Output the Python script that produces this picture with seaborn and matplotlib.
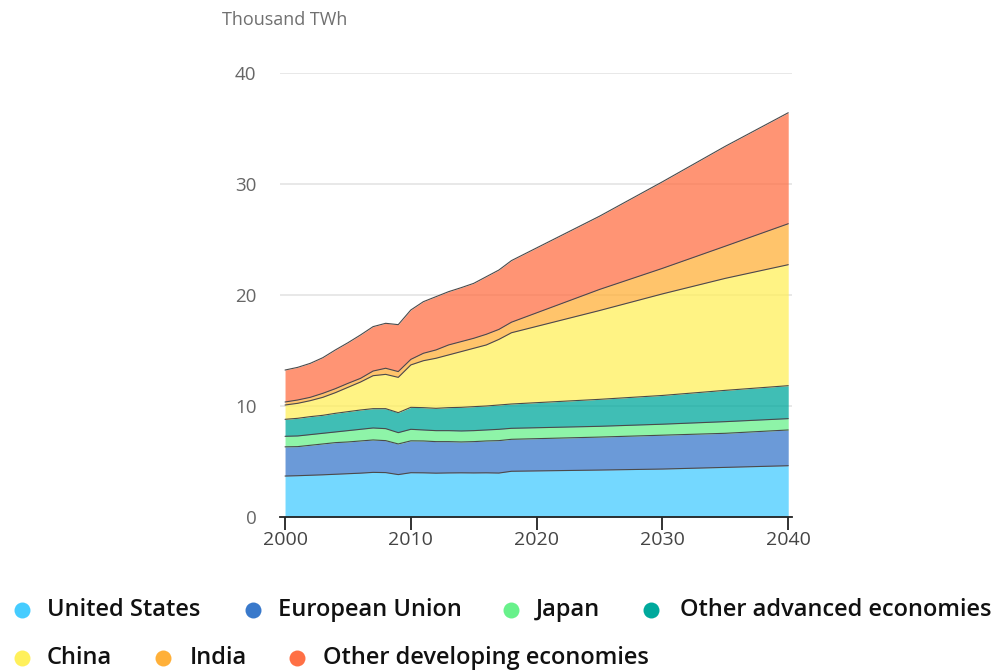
import numpy as np
import pandas as pd
import matplotlib
matplotlib.use("Agg")
import matplotlib.pyplot as plt
from matplotlib.lines import Line2D
import seaborn as sns

# Electricity demand by region, thousand TWh
years = [2000, 2001, 2002, 2003, 2004, 2005, 2006, 2007, 2008, 2009,
         2010, 2011, 2012, 2013, 2014, 2015, 2016, 2017, 2018,
         2025, 2030, 2035, 2040]

united_states = [3.69, 3.72, 3.76, 3.80, 3.85, 3.90, 3.95, 4.02, 4.00, 3.82,
                 3.99, 3.98, 3.95, 3.97, 3.98, 3.97, 3.98, 3.96, 4.12,
                 4.23, 4.32, 4.47, 4.62]
european_union = [2.63, 2.62, 2.70, 2.78, 2.85, 2.86, 2.90, 2.92, 2.88, 2.76,
                  2.87, 2.87, 2.84, 2.82, 2.78, 2.82, 2.87, 2.92, 2.88,
                  2.97, 3.05, 3.07, 3.22]
japan = [0.95, 0.96, 0.96, 0.96, 0.96, 1.02, 1.05, 1.08, 1.08, 1.02,
         1.04, 0.99, 0.99, 0.99, 0.99, 0.99, 0.99, 1.02, 0.99,
         0.97, 0.99, 1.05, 1.02]
other_advanced = [1.53, 1.59, 1.62, 1.62, 1.68, 1.71, 1.74, 1.74, 1.80, 1.80,
                  1.98, 2.01, 2.01, 2.07, 2.13, 2.16, 2.16, 2.19, 2.19,
                  2.43, 2.59, 2.82, 2.97]
china = [1.29, 1.35, 1.44, 1.62, 1.86, 2.19, 2.52, 2.97, 3.09, 3.18,
         3.82, 4.23, 4.51, 4.75, 5.02, 5.26, 5.50, 5.91, 6.42,
         8.00, 9.15, 10.09, 10.90]
india = [0.27, 0.30, 0.30, 0.36, 0.36, 0.36, 0.33, 0.42, 0.55, 0.52,
         0.50, 0.67, 0.75, 0.90, 0.90, 0.90, 0.96, 0.90, 0.95,
         1.90, 2.30, 2.90, 3.69]
other_developing = [2.88, 2.94, 3.06, 3.21, 3.49, 3.66, 3.91, 4.00, 4.05, 4.23,
                    4.45, 4.65, 4.80, 4.80, 4.86, 4.95, 5.19, 5.35, 5.55,
                    6.60, 7.80, 9.00, 10.00]

regions = ["United States", "European Union", "Japan", "Other advanced economies",
           "China", "India", "Other developing economies"]
colors = ["#45ccff", "#3979cb", "#68f18b", "#00a99c",
          "#fff05b", "#ffb039", "#ff7045"]

x_ticks = [2000, 2010, 2020, 2030, 2040]
y_ticks = [0, 10, 20, 30, 40]
unit_label = "Thousand TWh"

df = pd.DataFrame({
    "year": years,
    regions[0]: united_states,
    regions[1]: european_union,
    regions[2]: japan,
    regions[3]: other_advanced,
    regions[4]: china,
    regions[5]: india,
    regions[6]: other_developing,
})

sns.set_theme(style="white")
plt.rcParams["font.family"] = ["Open Sans", "DejaVu Sans"]

fig = plt.figure(figsize=(10, 6.71), dpi=100)
ax = fig.add_axes([0.28, 1 - 517 / 671, 0.512, (517 - 73) / 671])

values = df[regions].to_numpy().T
cum = np.cumsum(values, axis=0)
lower = np.zeros(len(years))
for i, name in enumerate(regions):
    ax.fill_between(df["year"], lower, cum[i], color=colors[i], alpha=0.75,
                    linewidth=0, zorder=2)
    lower = cum[i]

# Boundary lines between stacked layers
long = pd.DataFrame({
    "year": np.tile(df["year"].to_numpy(), len(regions)),
    "top": cum.ravel(),
    "layer": np.repeat(regions, len(years)),
})
sns.lineplot(data=long, x="year", y="top", units="layer", estimator=None,
             color="#4a4a4a", linewidth=0.8, ax=ax, zorder=3, legend=False)

ax.set_xlim(1999.6, 2040.3)
ax.set_ylim(0, 40)
ax.set_xticks(x_ticks)
ax.set_yticks(y_ticks)
ax.set_xlabel("")
ax.set_ylabel("")
ax.grid(axis="y", color="#e4e4e4", linewidth=1.2, zorder=0)
ax.grid(axis="x", visible=False)
for s in ["top", "right", "left"]:
    ax.spines[s].set_visible(False)
ax.spines["bottom"].set_color("#222222")
ax.spines["bottom"].set_linewidth(1.3)
ax.spines["bottom"].set_zorder(4)
ax.tick_params(axis="x", direction="out", length=9, width=1.3, color="#222222",
               labelsize=14, labelcolor="#444444", pad=1, bottom=True)
ax.tick_params(axis="y", length=0, labelsize=13.5, labelcolor="#666666", pad=17)

fig.text(0.222, 1 - 20 / 671, unit_label, fontsize=13, color="#707070",
         ha="left", va="center")

# Legend in two rows
legend_rows = [
    [(22, 47, 0), (253, 278, 1), (511, 536, 2), (651, 680, 3)],
    [(22, 47, 4), (163, 190, 5), (297, 323, 6)],
]
row_y = [610, 658]
for r, row in enumerate(legend_rows):
    yf = 1 - row_y[r] / 671
    for dot_x, text_x, idx in row:
        fig.add_artist(Line2D([dot_x / 1000], [yf], transform=fig.transFigure,
                              marker="o", markersize=11.5, linestyle="none",
                              markerfacecolor=colors[idx], markeredgewidth=0))
        fig.text(text_x / 1000, yf, regions[idx], fontsize=17, color="#111111",
                 fontweight="semibold", ha="left", va="center")

fig.savefig("out.png", dpi=100, facecolor="white")
